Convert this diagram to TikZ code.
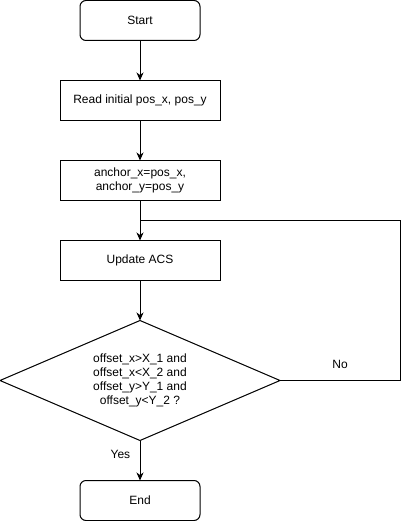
\documentclass[tikz,border=0pt]{standalone}
\usepackage{fontspec}
\setmainfont{Liberation Sans}
\usetikzlibrary{calc,positioning,shapes.geometric,arrows.meta}

\begin{document}
\begin{tikzpicture}[x=1pt,y=1pt,node distance=40pt,
	font=\fontsize{12pt}{14pt}\selectfont,line width=1pt,
	term/.style={rectangle,draw,outer sep=0pt,rounded corners=6pt,minimum width=120pt,minimum height=40pt},
	proc/.style={rectangle,draw,outer sep=0pt,minimum width=160pt,minimum height=40pt,align=center},
	cond/.style={diamond,draw,outer sep=0pt,aspect=2.33,inner sep=0pt,minimum width=280pt,minimum height=120pt,align=center},
	line/.style={-{Stealth[length=8pt,width=7pt,inset=2.5pt]}}]
	\useasboundingbox (0,0) rectangle (403,-521);
	\node (start)[term] at (140,-20.5){Start};
	\node (read)[proc,below=of start]{Read initial pos\_x, pos\_y};
	\node (anch)[proc,below=of read]{anchor\_x=pos\_x,\\anchor\_y=pos\_y};
	\node (upd)[proc,below=of anch]{Update ACS};
	\node (test)[cond,below=of upd]{offset\_x>X\_1 and\\offset\_x<X\_2 and\\offset\_y>Y\_1 and\\offset\_y<Y\_2 ?};
	\node (stop)[term,below=of test]{End};
	\coordinate (join) at ($(anch.south)!0.5!(upd.north)$);
	\draw[line] (start) -- (read);
	\draw[line] (read) -- (anch);
	\draw[line] (anch) -- (upd);
	\draw[line] (upd) -- (test);
	\draw[line] (test) -- node[left=6pt,pos=0.35]{Yes} (stop);
	\draw (test.east) -- node[above=8pt,pos=0.5]{No} ++(120,0) |- (join);
\end{tikzpicture}
\end{document}
